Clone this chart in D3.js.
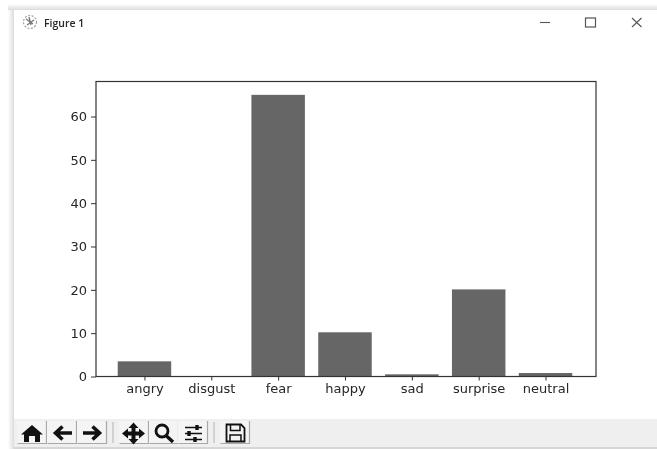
<!DOCTYPE html>
<html>
<head>
  <meta charset="UTF-8">
  <script src="https://d3js.org/d3.v7.min.js"></script>
  <title>Figure 1</title>
  <style>
    html, body { margin: 0; padding: 0; background: #fff; overflow: hidden; }
    svg { display: block; filter: blur(0.4px); }
    text { font-family: "DejaVu Sans", sans-serif; fill: #262626; }
  </style>
</head>
<body>
<svg width="657" height="449"></svg>
<script>
  var categories = ["angry", "disgust", "fear", "happy", "sad", "surprise", "neutral"];
  var values = [3.5, 0.05, 65, 10.2, 0.5, 20.1, 0.8];
  var yTicks = [0, 10, 20, 30, 40, 50, 60];

  var svg = d3.select("svg");

  // window chrome
  var shadow = svg.append("defs").append("linearGradient").attr("id", "topShade")
      .attr("x1", 0).attr("x2", 0).attr("y1", 0).attr("y2", 1);
  shadow.append("stop").attr("offset", 0).attr("stop-color", "#ffffff");
  shadow.append("stop").attr("offset", 1).attr("stop-color", "#dcdcdc");
  var leftShade = svg.select("defs").append("linearGradient").attr("id", "leftShade");
  leftShade.append("stop").attr("offset", 0).attr("stop-color", "#ffffff");
  leftShade.append("stop").attr("offset", 1).attr("stop-color", "#dcdcdc");

  svg.append("rect").attr("x", 8).attr("y", 4).attr("width", 649).attr("height", 6).attr("fill", "url(#topShade)");
  svg.append("rect").attr("x", 8).attr("y", 10).attr("width", 6).attr("height", 439).attr("fill", "url(#leftShade)");
  svg.append("rect").attr("x", 14).attr("y", 10).attr("width", 643).attr("height", 409).attr("fill", "#fff");
  svg.append("rect").attr("x", 14).attr("y", 419).attr("width", 643).attr("height", 28).attr("fill", "#efefef");
  svg.append("rect").attr("x", 14).attr("y", 447).attr("width", 643).attr("height", 2).attr("fill", "#d6d6d6");

  // title bar
  var logo = svg.append("g").attr("transform", "translate(30,22)");
  logo.append("circle").attr("r", 6.5).attr("fill", "none").attr("stroke", "#999").attr("stroke-width", 1.1).attr("stroke-dasharray", "2 1.5");
  logo.append("path").attr("d", "M-4,-3L3,2M-1,-5L1,3M4,-2L-3,3").attr("stroke", "#777").attr("stroke-width", 1.3).attr("fill", "none");
  svg.append("text").attr("x", 44).attr("y", 26.5).attr("font-size", 10.5).attr("font-weight", 600)
      .style("font-family", "'Open Sans', sans-serif").text("Figure 1");

  var buttons = svg.append("g").attr("fill", "none").attr("stroke", "#555");
  buttons.append("path").attr("d", "M540,22.5H550").attr("stroke-width", 1.1);
  buttons.append("rect").attr("x", 585.5).attr("y", 18).attr("width", 10).attr("height", 9).attr("stroke-width", 1.2);
  buttons.append("path").attr("d", "M632,18L641.5,27M641.5,18L632,27").attr("stroke-width", 1.1);

  // axes
  var x = d3.scaleLinear().domain([-0.725, 6.755]).range([96, 596]);
  var y = d3.scaleLinear().domain([0, 68.08]).range([376.5, 81.5]);
  var barWidth = x(0.8) - x(0);

  svg.selectAll("rect.bar")
    .data(values)
    .enter()
    .append("rect")
      .attr("class", "bar")
      .attr("x", function(d, i) { return x(i) - barWidth / 2; })
      .attr("y", function(d) { return y(d); })
      .attr("width", barWidth)
      .attr("height", function(d) { return y(0) - y(d); })
      .attr("fill", "#666666");

  var xAxis = d3.axisBottom(x)
      .tickValues(d3.range(categories.length))
      .tickFormat(function(i) { return categories[i]; })
      .tickSize(4).tickPadding(3);
  var yAxis = d3.axisLeft(y)
      .tickValues(yTicks)
      .tickSize(5).tickPadding(4);

  var gx = svg.append("g").attr("transform", "translate(0,376.5)").call(xAxis);
  var gy = svg.append("g").attr("transform", "translate(96,0)").call(yAxis);
  [gx, gy].forEach(function(g) {
    g.select(".domain").remove();
    g.selectAll("line").attr("stroke", "#333").attr("stroke-width", 1);
    g.selectAll("text").attr("font-size", 13).style("font-family", "'DejaVu Sans', sans-serif").attr("fill", "#333");
  });

  svg.append("rect").attr("x", 96).attr("y", 81.5).attr("width", 500).attr("height", 295)
      .attr("fill", "none").attr("stroke", "#333").attr("stroke-width", 1.2);

  // toolbar
  var toolX = [32, 62, 92, 134, 164, 193, 235];
  var tools = svg.append("g");
  toolX.forEach(function(cx) {
    tools.append("rect").attr("x", cx - 15).attr("y", 421).attr("width", 30).attr("height", 23).attr("fill", "#f4f4f4");
    tools.append("path").attr("d", "M" + (cx + 14.5) + ",421V443.5H" + (cx - 14.5))
        .attr("fill", "none").attr("stroke", "#a8a8a8").attr("stroke-width", 1.2);
  });
  tools.append("path").attr("d", "M32,425L43,434.5H40V442H35V436H29V442H24V434.5H21Z").attr("fill", "#111");
  tools.append("path").attr("d", "M72,433H56M62.5,426.5L55.5,433L62.5,439.5").attr("fill", "none").attr("stroke", "#111").attr("stroke-width", 3.6);
  tools.append("path").attr("d", "M83,433H99M92.5,426.5L99.5,433L92.5,439.5").attr("fill", "none").attr("stroke", "#111").attr("stroke-width", 3.6);
  tools.append("path").attr("d", "M133.5,422.5L138.5,428H135.5V431.5H139V428.5L145,433.5L139,438.5V435.5H135.5V439H138.5L133.5,444.5L128.5,439H131.5V435.5H128V438.5L122,433.5L128,428.5V431.5H131.5V428H128.5Z").attr("fill", "#111");
  tools.append("circle").attr("cx", 162).attr("cy", 431).attr("r", 6).attr("fill", "none").attr("stroke", "#111").attr("stroke-width", 2.8);
  tools.append("path").attr("d", "M166,435.5L173,442").attr("stroke", "#111").attr("stroke-width", 3.4);
  tools.append("path").attr("d", "M185,427.5H202M185,433.5H202M185,439.5H202").attr("stroke", "#111").attr("stroke-width", 1.6);
  tools.append("path").attr("d", "M197,425V430M189,431V436M195,437V442").attr("stroke", "#111").attr("stroke-width", 3.4);
  tools.append("path").attr("d", "M226.5,424.5H241L244.5,428V441.5H226.5Z").attr("fill", "none").attr("stroke", "#111").attr("stroke-width", 1.8);
  tools.append("path").attr("d", "M230.5,425V430.5H240V425M230,441V435H241V441").attr("fill", "none").attr("stroke", "#111").attr("stroke-width", 1.5);
  svg.append("path").attr("d", "M113,422V443M214,422V443").attr("stroke", "#c8c8c8").attr("stroke-width", 1.5);
</script>
</body>
</html>
